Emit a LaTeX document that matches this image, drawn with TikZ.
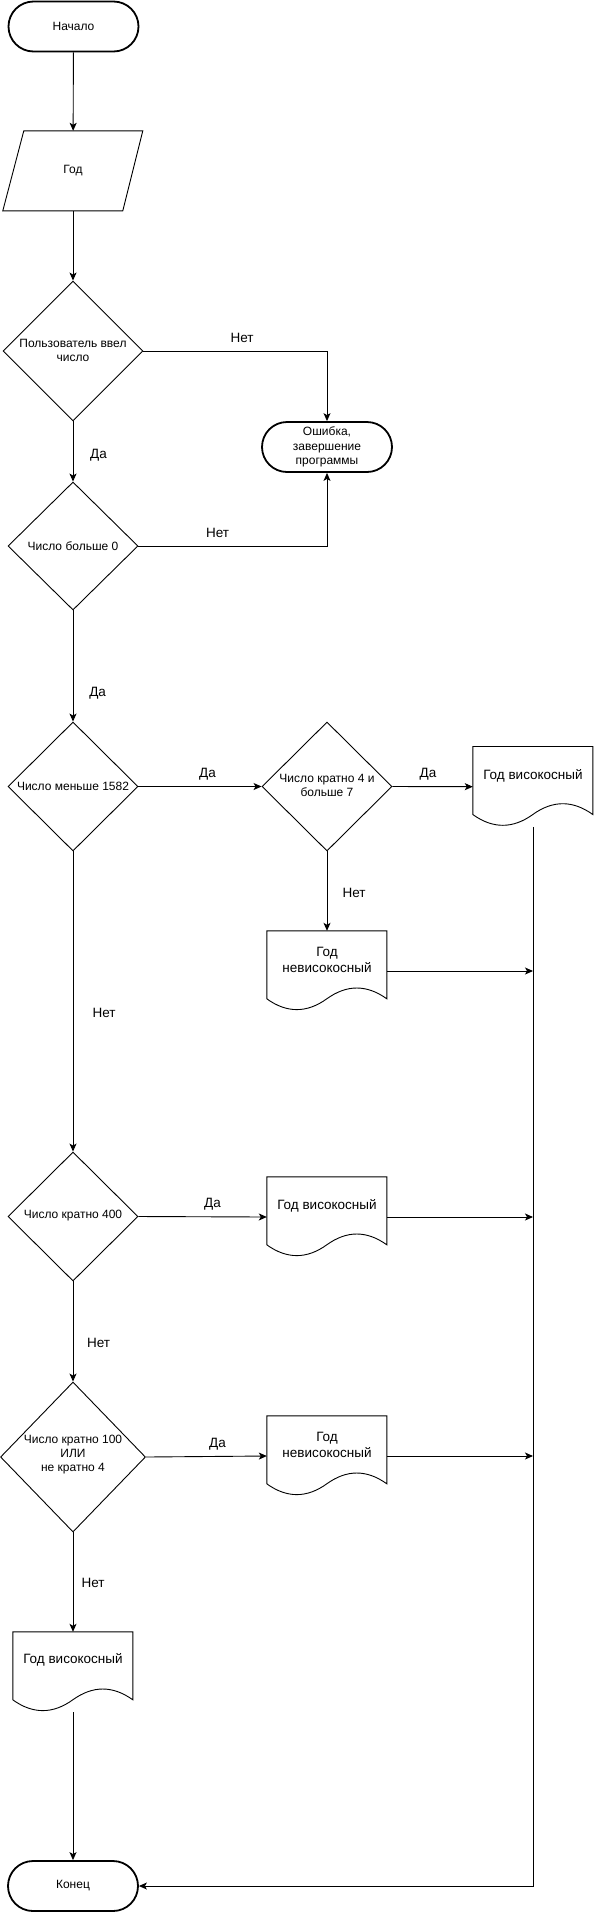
\documentclass[tikz,border=0pt]{standalone}
\usepackage{fontspec}
\setmainfont{Liberation Sans}
\usetikzlibrary{shapes.geometric,arrows.meta,calc}
\newcommand\drawdocshape[1]{%
  \draw[docline,shift={(#1.north west)}] (0,0) -- (120,0) -- (120,68)
    .. controls (100,53.6) and (80,53.6) .. (60,68)
    .. controls (40,82.4) and (20,82.4) .. (0,68) -- cycle;}
\begin{document}
\begin{tikzpicture}[x=1pt,y=-1pt,
  term/.style={draw, line width=1.8pt, rounded corners=25pt, minimum width=130pt, minimum height=50pt,
    inner sep=0pt, align=center, font=\fontsize{12}{14.5}\selectfont},
  dia/.style={diamond, draw, line width=0.9pt, inner sep=0pt},
  dtext/.style={inner sep=0pt, align=center, font=\fontsize{12}{14}\selectfont},
  docnode/.style={minimum width=120pt, minimum height=80pt, inner sep=0pt},
  docline/.style={line width=0.9pt},
  doctext/.style={inner sep=0pt, align=center, font=\fontsize{13.5}{16}\selectfont},
  lbl/.style={inner sep=0pt, anchor=base, font=\fontsize{13.5}{16}\selectfont},
  arr/.style={line width=0.9pt, -{Stealth[length=8pt,width=7pt,inset=2pt]}},
  ln/.style={line width=0.9pt}]
\useasboundingbox (0,0) rectangle (594,1912);

% nodes
\node[term] (start) at (73.5,26.5) {Начало};
\node[minimum width=140pt, minimum height=80pt, inner sep=0pt, font=\fontsize{12}{14}\selectfont] (god) at (73,171) {Год};
\draw[docline,shift={(god.north west)}] (21,0) -- (140,0) -- (120,80) -- (0,80) -- cycle;

\node[dia, minimum width=140pt, minimum height=140pt] (d1) at (73,351) {};
\node[dtext] (t1) at (73,350) {Пользователь ввел\\число};

\node[term] (err) at (327,447) {Ошибка,\\завершение\\программы};

\node[dia, minimum width=130pt, minimum height=128pt] (d2) at (73,546) {};
\node[dtext] (t2) at (73,546) {Число больше 0};

\node[dia, minimum width=130pt, minimum height=129pt] (d3) at (73,786.5) {};
\node[dtext] (t3) at (73,786) {Число меньше 1582};

\node[dia, minimum width=130pt, minimum height=129pt] (d4) at (327,786.5) {};
\node[dtext] (t4) at (327,785) {Число кратно 4 и\\больше 7};

\node[docnode] (doc1) at (533,786.7) {};
\drawdocshape{doc1}
\node[doctext] (td1) at ($(doc1.north)+(0,29.5)$) {Год високосный};

\node[docnode] (doc2) at (327,971) {};
\drawdocshape{doc2}
\node[doctext] (td2) at ($(doc2.north)+(0,29.5)$) {Год\\невисокосный};

\node[dia, minimum width=130pt, minimum height=129pt] (d5) at (73,1216.5) {};
\node[dtext] (t5) at (73,1216) {Число кратно 400};

\node[docnode] (doc3) at (327,1217) {};
\drawdocshape{doc3}
\node[doctext] (td3) at ($(doc3.north)+(0,29.5)$) {Год високосный};

\node[dia, minimum width=145pt, minimum height=150pt] (d6) at (73,1457) {};
\node[dtext] (t6) at (73,1455) {Число кратно 100\\ИЛИ\\не кратно 4};

\node[docnode] (doc4) at (327,1456) {};
\drawdocshape{doc4}
\node[doctext] (td4) at ($(doc4.north)+(0,29.5)$) {Год\\невисокосный};

\node[docnode] (doc5) at (73,1672) {};
\drawdocshape{doc5}
\node[doctext] (td5) at ($(doc5.north)+(0,28.5)$) {Год високосный};

\node[term] (end) at (73,1886) {Конец};

% connectors
\draw[arr] (start) -- (god);
\draw[arr] (god) -- (d1);
\draw[arr] (d1.east) -| (err.north);
\draw[arr] (d1.south) -- (d2.north);
\draw[arr] (d2.east) -| (err.south);
\draw[arr] (d2.south) -- (d3.north);
\draw[arr] (d3.east) -- (d4.west);
\draw[arr] (d4.east) -- (doc1.west);
\draw[arr] (d4.south) -- (doc2.north);
\draw[arr] (doc2.east) -- (doc2.east -| doc1.south);
\draw[arr] (doc1.south) |- (end.east);
\draw[arr] (d3.south) -- (d5.north);
\draw[arr] (d5.east) -- (doc3.west);
\draw[arr] (doc3.east) -- (doc3.east -| doc1.south);
\draw[arr] (d5.south) -- (d6.north);
\draw[arr] (d6.east) -- (doc4.west);
\draw[arr] (doc4.east) -- (doc4.east -| doc1.south);
\draw[arr] (d6.south) -- (doc5.north);
\draw[arr] (doc5.south) -- (end.north);

% labels
\node[lbl] (l1) at (242,342) {Нет};
\node[lbl] (l2) at (98.5,458) {Да};
\node[lbl] (l3) at (217.5,537) {Нет};
\node[lbl] (l4) at (97.6,696.6) {Да};
\node[lbl] (l5) at (207.5,777) {Да};
\node[lbl] (l6) at (428,777) {Да};
\node[lbl] (l7) at (354,897) {Нет};
\node[lbl] (l8) at (104,1017) {Нет};
\node[lbl] (l9) at (212.5,1207) {Да};
\node[lbl] (l10) at (98.5,1347) {Нет};
\node[lbl] (l11) at (217.5,1447) {Да};
\node[lbl] (l12) at (93,1587) {Нет};
\end{tikzpicture}
\end{document}
